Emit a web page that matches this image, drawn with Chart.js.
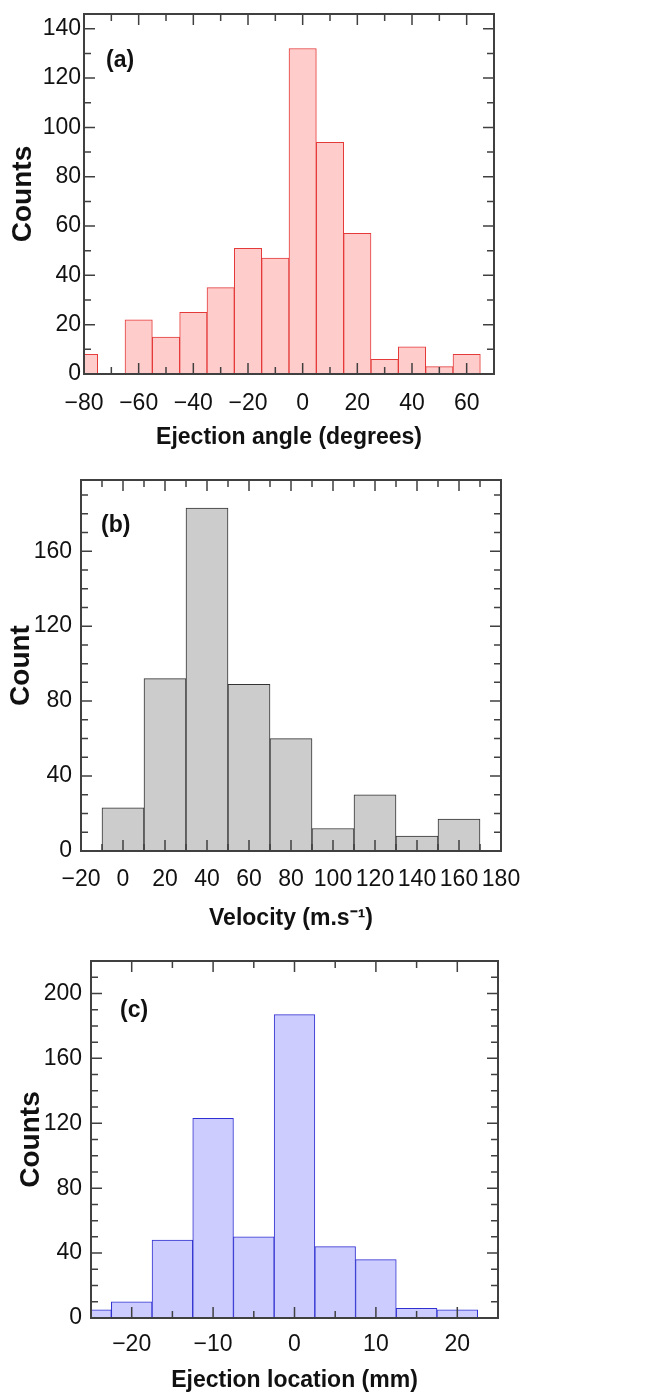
<!DOCTYPE html>
<html>
<head>
<meta charset="utf-8">
<script src="https://cdn.jsdelivr.net/npm/chart.js@4.4.1/dist/chart.umd.min.js"></script>
<style>
  body { margin: 0; background: #fff; }
  canvas { display: block; }
</style>
</head>
<body>
<canvas id="chart-angle" width="658" height="460"></canvas>
<canvas id="chart-velocity" width="658" height="480"></canvas>
<canvas id="chart-location" width="658" height="457"></canvas>
<script>
// (a) ejection angle, bins of 10 degrees
const angleBins = [-80, -70, -60, -50, -40, -30, -20, -10, 0, 10, 20, 30, 40, 50, 60];
const angleCounts = [8, 0, 22, 15, 25, 35, 51, 47, 132, 94, 57, 6, 11, 3, 8];
const angleTicks = [-80, -60, -40, -20, 0, 20, 40, 60];
const angleCountTicks = [0, 20, 40, 60, 80, 100, 120, 140];

// (b) velocity, bins of 20 m/s
const velocityBins = [0, 20, 40, 60, 80, 100, 120, 140, 160];
const velocityCounts = [23, 92, 183, 89, 60, 12, 30, 8, 17];
const velocityTicks = [-20, 0, 20, 40, 60, 80, 100, 120, 140, 160, 180];
const velocityCountTicks = [0, 40, 80, 120, 160];

// (c) ejection location, bins of 5 mm
const locationBins = [-25, -20, -15, -10, -5, 0, 5, 10, 15, 20];
const locationCounts = [5, 10, 48, 123, 50, 187, 44, 36, 6, 5];
const locationTicks = [-20, -10, 0, 10, 20];
const locationCountTicks = [0, 40, 80, 120, 160, 200];

const FONT = "'Liberation Sans', Arial, Helvetica, sans-serif";

function tickMarks(scale, minor, draw) {
    const major = scale.ticks.map(t => t.value);
    const first = Math.ceil(scale.min / minor - 1e-9);
    const last = Math.floor(scale.max / minor + 1e-9);
    for (let k = first; k <= last; k++) {
        const v = k * minor;
        const len = major.some(m => Math.abs(m - v) < 1e-6) ? 11 : 7;
        draw(scale.getPixelForValue(v), len);
    }
}

// box round the plot, inward ticks on all four sides, panel letter
const panelFrame = {
    id: 'panelFrame',
    afterDraw(chart, args, opts) {
        const {ctx, chartArea: area} = chart;
        const x = chart.scales.x, y = chart.scales.y;
        ctx.save();
        ctx.strokeStyle = '#404040';
        ctx.lineWidth = 1.5;
        ctx.beginPath();
        tickMarks(x, opts.xMinor, function (px, len) {
            ctx.moveTo(px, area.bottom); ctx.lineTo(px, area.bottom - len);
            ctx.moveTo(px, area.top); ctx.lineTo(px, area.top + len);
        });
        tickMarks(y, opts.yMinor, function (py, len) {
            ctx.moveTo(area.left, py); ctx.lineTo(area.left + len, py);
            ctx.moveTo(area.right, py); ctx.lineTo(area.right - len, py);
        });
        ctx.stroke();
        ctx.lineWidth = 2;
        ctx.strokeRect(area.left, area.top, area.right - area.left, area.bottom - area.top);
        ctx.fillStyle = '#111';
        ctx.font = 'bold 23px ' + FONT;
        ctx.textBaseline = 'middle';
        ctx.textAlign = 'left';
        ctx.fillText(opts.letter, area.left + opts.letterX, area.top + opts.letterY);
        ctx.restore();
    }
};

function fmt(v) {
    return v < 0 ? '\u2212' + Math.abs(v) : String(v);
}

function drawHistogram(id, bins, counts, xTicks, yTicks, o) {
    const ctx = document.getElementById(id);
    return new Chart(ctx, {
        type: 'bar',
        data: {
            datasets: [{
                data: bins.map((b, i) => ({x: b, y: counts[i]})),
                backgroundColor: o.fill,
                borderColor: o.line,
                borderWidth: 1,
                barPercentage: 1,
                categoryPercentage: 1,
                clip: 0
            }]
        },
        options: {
            responsive: false,
            animation: false,
            layout: { padding: o.padding },
            plugins: {
                legend: { display: false },
                tooltip: { enabled: false },
                panelFrame: { letter: o.letter, letterX: o.letterX, letterY: o.letterY, xMinor: o.xMinor, yMinor: o.yMinor }
            },
            scales: {
                x: {
                    type: 'linear',
                    min: o.xMin,
                    max: o.xMax,
                    offset: false,
                    grid: { display: false, drawTicks: false },
                    border: { display: false },
                    ticks: {
                        color: '#111',
                        font: { family: FONT, size: 23 },
                        padding: o.xTickPad,
                        maxRotation: 0,
                        autoSkip: false,
                        callback: fmt
                    },
                    title: {
                        display: true,
                        text: o.xTitle,
                        color: '#111',
                        padding: 0,
                        font: { family: FONT, size: 23, weight: 'bold' }
                    },
                    afterBuildTicks: s => { s.ticks = xTicks.map(v => ({value: v})); },
                    afterFit: s => { s.height = o.xHeight; s.paddingLeft = 0; s.paddingRight = 0; }
                },
                y: {
                    min: 0,
                    max: o.yMax,
                    grid: { display: false, drawTicks: false },
                    border: { display: false },
                    ticks: {
                        color: '#111',
                        font: { family: FONT, size: 23 },
                        padding: o.yTickPad,
                        autoSkip: false,
                        callback: fmt
                    },
                    title: {
                        display: true,
                        text: o.yTitle,
                        color: '#111',
                        padding: 0,
                        font: { family: FONT, size: 28, weight: 'bold' }
                    },
                    afterBuildTicks: s => { s.ticks = yTicks.map(v => ({value: v})); },
                    afterFit: s => { s.width = o.yWidth; s.paddingTop = 0; s.paddingBottom = 0; }
                }
            }
        },
        plugins: [panelFrame]
    });
}

drawHistogram('chart-angle', angleBins, angleCounts, angleTicks, angleCountTicks, {
    fill: '#ffcccc', line: '#e53a3a',
    xMin: -80, xMax: 70, yMax: 146, xMinor: 10, yMinor: 10,
    xTitle: 'Ejection angle (degrees)', yTitle: 'Counts',
    padding: { left: 6, top: 14, right: 164, bottom: 9 },
    yWidth: 78, xHeight: 77, xTickPad: 16, yTickPad: 3,
    letter: '(a)', letterX: 22, letterY: 47
});

drawHistogram('chart-velocity', velocityBins, velocityCounts, velocityTicks, velocityCountTicks, {
    fill: '#cccccc', line: '#333333',
    xMin: -20, xMax: 180, yMax: 198, xMinor: 10, yMinor: 10,
    xTitle: 'Velocity (m.s\u207B\u00B9)', yTitle: 'Count',
    padding: { left: 4, top: 20, right: 157, bottom: 8 },
    yWidth: 77, xHeight: 81, xTickPad: 15, yTickPad: 9,
    letter: '(b)', letterX: 20, letterY: 46
});

drawHistogram('chart-location', locationBins, locationCounts, locationTicks, locationCountTicks, {
    fill: '#ccccff', line: '#3030d0',
    xMin: -25, xMax: 25, yMax: 220, xMinor: 5, yMinor: 10,
    xTitle: 'Ejection location (mm)', yTitle: 'Counts',
    padding: { left: 14, top: 21, right: 160, bottom: 3 },
    yWidth: 77, xHeight: 76, xTickPad: 13, yTickPad: 9,
    letter: '(c)', letterX: 29, letterY: 50
});
</script>
</body>
</html>
